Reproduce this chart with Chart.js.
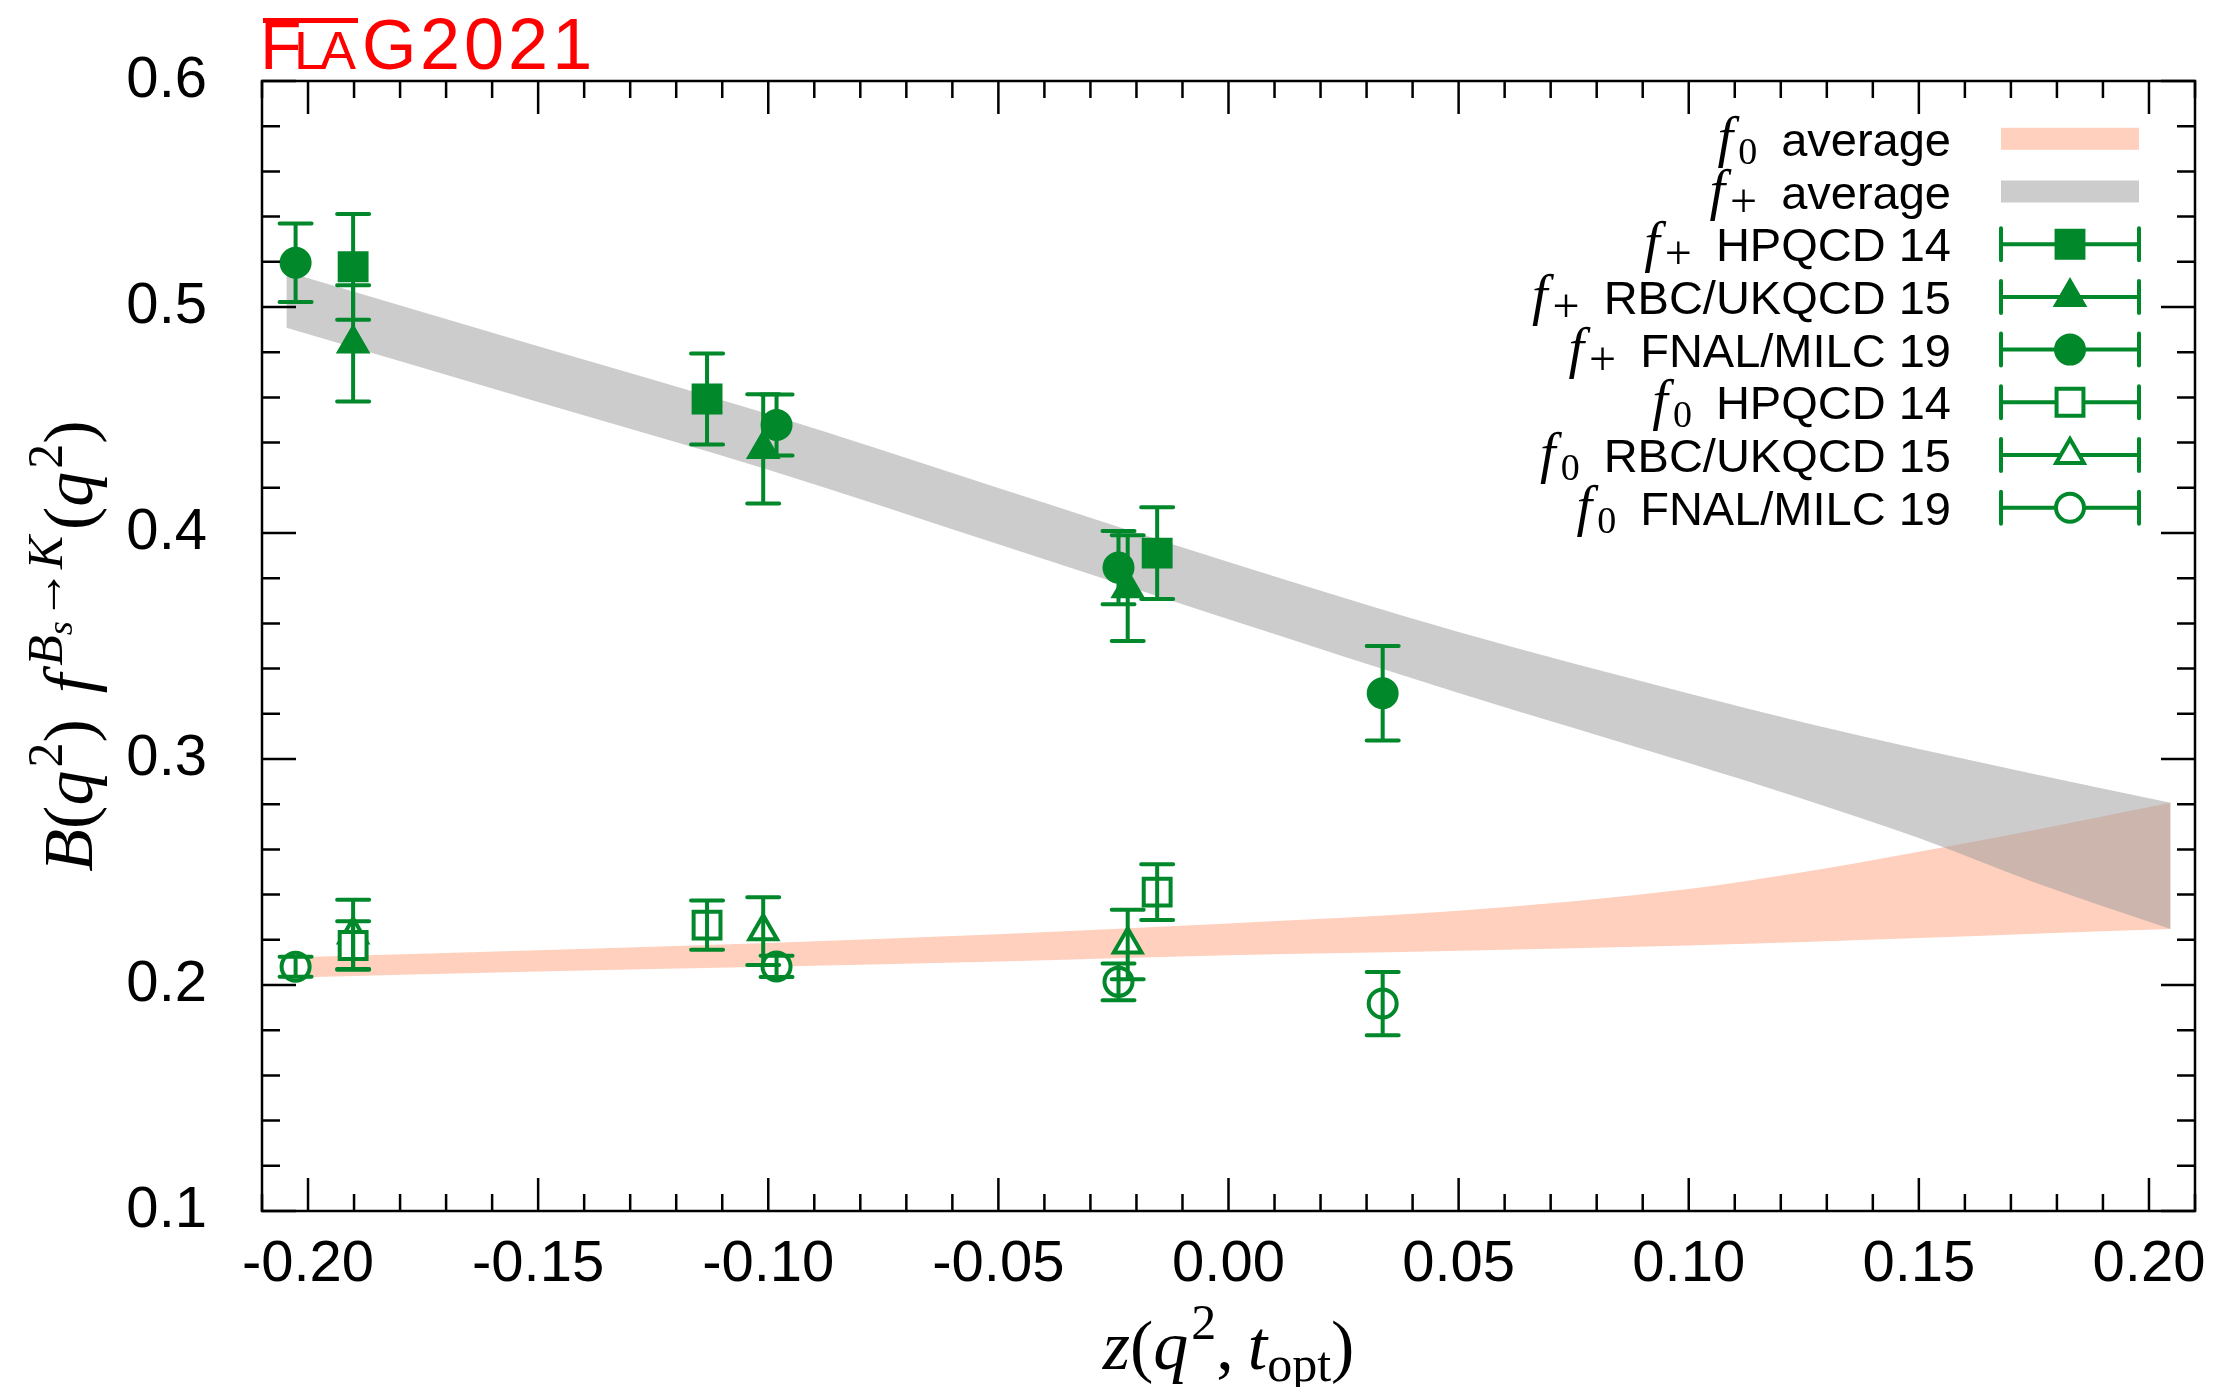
<!DOCTYPE html>
<html>
<head>
<meta charset="utf-8">
<title>FLAG 2021 - Bs -> K</title>
<script src="https://cdn.jsdelivr.net/npm/chart.js@4.4.1/dist/chart.umd.min.js"></script>
<style>
    html, body { margin: 0; padding: 0; background: #fff; }
    #contenedor { width: 2218px; height: 1387px; }
</style>
</head>
<body>
<div id="contenedor"><canvas id="grafico" width="2218" height="1387"></canvas></div>
<script>
const xTicks = [-0.20, -0.15, -0.10, -0.05, 0.00, 0.05, 0.10, 0.15, 0.20];
const yTicks = [0.1, 0.2, 0.3, 0.4, 0.5, 0.6];

// bandas (promedios FLAG): borde inferior y superior
const bandaZ = [-0.2047, -0.15, -0.10, -0.05, 0.00, 0.05, 0.10, 0.125, 0.15, 0.175, 0.2047];
const f0Bajo = [0.2032, 0.2060, 0.2081, 0.2104, 0.2132, 0.2152, 0.2175, 0.2190, 0.2208, 0.2227, 0.2248];
const f0Alto = [0.2122, 0.2154, 0.2186, 0.2225, 0.2272, 0.2328, 0.2425, 0.2500, 0.2590, 0.2685, 0.2806];
const fpBajo = [0.4908, 0.4580, 0.4280, 0.3950, 0.3618, 0.3292, 0.2982, 0.2822, 0.2650, 0.2455, 0.2248];
const fpAlto = [0.5156, 0.4826, 0.4526, 0.4199, 0.3872, 0.3562, 0.3290, 0.3162, 0.3044, 0.2934, 0.2806];

// HPQCD 14
const hpqcdZ = [-0.1902, -0.1133, -0.0155];
const hpqcdFp = [0.5178, 0.4593, 0.3911];
const hpqcdFpErr = [0.0234, 0.0201, 0.0203];
const hpqcdF0 = [0.2175, 0.2265, 0.2411];
const hpqcdF0Err = [0.0107, 0.0109, 0.0123];

// RBC/UKQCD 15
const rbcZ = [-0.1902, -0.1011, -0.0219];
const rbcFp = [0.4839, 0.4372, 0.3756];
const rbcFpErr = [0.0257, 0.0242, 0.0234];
const rbcF0 = [0.2224, 0.2238, 0.2179];
const rbcF0Err = [0.0153, 0.0150, 0.0154];

// FNAL/MILC 19
const fnalZ = [-0.2027, -0.0982, -0.0239, 0.0335];
const fnalFp = [0.5196, 0.4478, 0.3847, 0.3291];
const fnalFpErr = [0.0174, 0.0135, 0.0162, 0.0209];
const fnalF0 = [0.2081, 0.2082, 0.2014, 0.1918];
const fnalF0Err = [0.0044, 0.0047, 0.0081, 0.0140];

const verde = '#00882a';
const rosa = '#ffd0be';
const gris = 'rgba(153,153,153,0.5)';
const sans = '"Liberation Sans", Arial, sans-serif';
const serif = '"Liberation Serif", "DejaVu Serif", serif';

const puntos = (xs, ys) => xs.map((x, i) => ({ x, y: ys[i] }));

function banda(zs, vals, relleno, color, orden) {
    return {
        type: 'line',
        data: puntos(zs, vals),
        borderColor: 'rgba(0,0,0,0)',
        borderWidth: 0,
        pointRadius: 0,
        cubicInterpolationMode: 'monotone',
        fill: relleno,
        backgroundColor: color,
        order: orden
    };
}

function serie(zs, vals, errs, estilo, radio, lleno, leyenda) {
    return {
        type: 'scatter',
        data: puntos(zs, vals),
        err: errs,
        pointStyle: estilo,
        pointRadius: radio,
        pointBorderWidth: 4,
        pointBorderColor: verde,
        pointBackgroundColor: lleno ? verde : '#ffffff',
        borderColor: verde,
        backgroundColor: lleno ? verde : '#ffffff',
        order: 1,
        leyenda
    };
}

const datasets = [
    banda(bandaZ, f0Bajo, false, rosa, 20),
    Object.assign(banda(bandaZ, f0Alto, '-1', rosa, 20), { leyenda: { fila: 0, sub: '0', texto: 'average' } }),
    banda(bandaZ, fpBajo, false, gris, 19),
    Object.assign(banda(bandaZ, fpAlto, '-1', gris, 19), { leyenda: { fila: 1, sub: '+', texto: 'average' } }),
    serie(hpqcdZ, hpqcdFp, hpqcdFpErr, 'rect', 19, true, { fila: 2, sub: '+', texto: 'HPQCD 14' }),
    serie(rbcZ, rbcFp, rbcFpErr, 'triangle', 16, true, { fila: 3, sub: '+', texto: 'RBC/UKQCD 15' }),
    serie(fnalZ, fnalFp, fnalFpErr, 'circle', 14, true, { fila: 4, sub: '+', texto: 'FNAL/MILC 19' }),
    serie(hpqcdZ, hpqcdF0, hpqcdF0Err, 'rect', 19, false, { fila: 5, sub: '0', texto: 'HPQCD 14' }),
    serie(rbcZ, rbcF0, rbcF0Err, 'triangle', 16, false, { fila: 6, sub: '0', texto: 'RBC/UKQCD 15' }),
    serie(fnalZ, fnalF0, fnalF0Err, 'circle', 14, false, { fila: 7, sub: '0', texto: 'FNAL/MILC 19' })
];

function dibujarMarcador(ctx, estilo, radio, x, y) {
    if (Chart.helpers && Chart.helpers.drawPoint) {
        Chart.helpers.drawPoint(ctx, { pointStyle: estilo, radius: radio, rotation: 0, borderWidth: 4 }, x, y);
        return;
    }
    ctx.beginPath();
    ctx.arc(x, y, radio, 0, 2 * Math.PI);
    ctx.fill();
    ctx.stroke();
}

const barrasError = {
    id: 'barrasError',
    afterDatasetsDraw(chart) {
        const { ctx, scales: { x, y } } = chart;
        ctx.save();
        ctx.strokeStyle = verde;
        ctx.lineWidth = 4;
        ctx.lineCap = 'round';
        chart.data.datasets.forEach(ds => {
            if (!ds.err) return;
            ds.data.forEach((p, j) => {
                const px = x.getPixelForValue(p.x);
                const y1 = y.getPixelForValue(p.y + ds.err[j]);
                const y2 = y.getPixelForValue(p.y - ds.err[j]);
                ctx.beginPath();
                ctx.moveTo(px, y1); ctx.lineTo(px, y2);
                ctx.moveTo(px - 16, y1); ctx.lineTo(px + 16, y1);
                ctx.moveTo(px - 16, y2); ctx.lineTo(px + 16, y2);
                ctx.stroke();
            });
        });
        ctx.restore();
    }
};

const marco = {
    id: 'marco',
    afterDraw(chart) {
        const { ctx, chartArea: a, scales: { x, y } } = chart;
        ctx.save();
        ctx.strokeStyle = '#000';
        ctx.lineWidth = 2.5;
        ctx.beginPath();
        for (let k = -21; k <= 21; k++) {
            const px = x.getPixelForValue(k / 100);
            const largo = k % 5 === 0 ? 33 : 17;
            ctx.moveTo(px, a.bottom); ctx.lineTo(px, a.bottom - largo);
            ctx.moveTo(px, a.top); ctx.lineTo(px, a.top + largo);
        }
        for (let k = 5; k <= 30; k++) {
            const py = y.getPixelForValue(k * 0.02);
            const largo = k % 5 === 0 ? 34 : 18;
            ctx.moveTo(a.left, py); ctx.lineTo(a.left + largo, py);
            ctx.moveTo(a.right, py); ctx.lineTo(a.right - largo, py);
        }
        ctx.stroke();
        ctx.strokeRect(a.left, a.top, a.right - a.left, a.bottom - a.top);
        ctx.restore();
    }
};

// secuencia de trozos de texto con fuentes y desplazamientos distintos
function anchoTrozos(ctx, trozos) {
    return trozos.reduce((w, t) => {
        if (t.hueco) return w + t.hueco;
        ctx.font = t.f;
        return w + ctx.measureText(t.t).width + (t.extra || 0);
    }, 0);
}

function dibujarTrozos(ctx, trozos, x, base) {
    trozos.forEach(t => {
        if (t.hueco) { x += t.hueco; return; }
        ctx.font = t.f;
        ctx.fillText(t.t, x, base + (t.dy || 0));
        x += ctx.measureText(t.t).width + (t.extra || 0);
    });
}

const textos = {
    id: 'textos',
    afterDraw(chart) {
        const { ctx, chartArea: a } = chart;
        ctx.save();
        ctx.fillStyle = '#000';
        ctx.textAlign = 'left';
        ctx.textBaseline = 'alphabetic';

        const it = `italic 70px ${serif}`, rm = `70px ${serif}`;
        const itS = `italic 50px ${serif}`, rmS = `50px ${serif}`;

        const tituloX = [
            { t: 'z', f: it }, { t: '(', f: rm }, { t: 'q', f: it, extra: 3 },
            { t: '2', f: rmS, dy: -30 }, { t: ',', f: rm }, { hueco: 14 },
            { t: 't', f: it }, { t: 'opt', f: rmS, dy: 12 }, { t: ')', f: rm }
        ];
        const wx = anchoTrozos(ctx, tituloX);
        dibujarTrozos(ctx, tituloX, (a.left + a.right) / 2 - wx / 2, 1369);

        const tituloY = [
            { t: 'B', f: it }, { t: '(', f: rm }, { t: 'q', f: it, extra: 3 },
            { t: '2', f: rmS, dy: -30 }, { t: ')', f: rm }, { hueco: 26 },
            { t: 'f', f: it, extra: 8 }, { t: 'B', f: itS, dy: -30 },
            { t: 's', f: `italic 36px ${serif}`, dy: -20, extra: 2 },
            { t: '\u2192', f: rmS, dy: -30 }, { t: 'K', f: itS, dy: -30, extra: 6 },
            { t: '(', f: rm }, { t: 'q', f: it, extra: 3 },
            { t: '2', f: rmS, dy: -30 }, { t: ')', f: rm }
        ];
        const wy = anchoTrozos(ctx, tituloY);
        ctx.save();
        ctx.translate(92, (a.top + a.bottom) / 2);
        ctx.rotate(-Math.PI / 2);
        dibujarTrozos(ctx, tituloY, -wy / 2, 0);
        ctx.restore();

        // logo FLAG2021
        ctx.fillStyle = '#ff0000';
        ctx.font = `68px ${sans}`;
        ctx.fillText('F', 260, 68.5);
        ctx.font = `54px ${sans}`;
        ctx.fillText('L', 294, 68.5);
        ctx.fillText('A', 320, 68.5);
        ctx.font = `70px ${sans}`;
        ctx.fillText('G', 362, 68.5);
        ctx.font = `72px ${sans}`;
        ctx.letterSpacing = '4px';
        ctx.fillText('2021', 420, 68.5);
        ctx.letterSpacing = '0px';
        ctx.strokeStyle = '#ff0000';
        ctx.lineWidth = 5;
        ctx.beginPath();
        ctx.moveTo(263, 20.5); ctx.lineTo(358, 20.5);
        ctx.stroke();
        ctx.restore();
    }
};

const leyenda = {
    id: 'leyenda',
    afterDraw(chart) {
        const { ctx } = chart;
        const x0 = 2001, x1 = 2139, xm = 2070, xTexto = 1951;
        ctx.save();
        chart.data.datasets.forEach(ds => {
            const l = ds.leyenda;
            if (!l) return;
            const yc = 138.8 + 52.7 * l.fila;
            if (!ds.err) {
                ctx.fillStyle = ds.backgroundColor;
                ctx.fillRect(x0, yc - 11, x1 - x0, 22);
            } else {
                ctx.strokeStyle = verde;
                ctx.lineWidth = 4;
                ctx.lineCap = 'round';
                ctx.beginPath();
                ctx.moveTo(x0, yc); ctx.lineTo(x1, yc);
                ctx.moveTo(x0, yc - 16); ctx.lineTo(x0, yc + 16);
                ctx.moveTo(x1, yc - 16); ctx.lineTo(x1, yc + 16);
                ctx.stroke();
                ctx.lineCap = 'butt';
                ctx.fillStyle = ds.pointBackgroundColor;
                dibujarMarcador(ctx, ds.pointStyle, ds.pointRadius, xm, yc);
            }
            const base = yc + 17;
            ctx.fillStyle = '#000';
            ctx.textAlign = 'left';
            ctx.font = `47px ${sans}`;
            const wT = ctx.measureText(l.texto).width;
            const xT = xTexto - wT;
            ctx.fillText(l.texto, xT, base);
            ctx.font = l.sub === '+' ? `48px ${serif}` : `38px ${serif}`;
            const wS = ctx.measureText(l.sub).width;
            const xS = xT - 24 - wS;
            ctx.fillText(l.sub, xS, base + 8);
            ctx.font = `italic 56px ${serif}`;
            const wF = ctx.measureText('f').width;
            ctx.fillText('f', xS - wF - 5, base);
        });
        ctx.restore();
    }
};

const sinRelleno = s => { s.paddingLeft = 0; s.paddingRight = 0; s.paddingTop = 0; s.paddingBottom = 0; };

new Chart(document.getElementById('grafico'), {
    type: 'scatter',
    data: { datasets },
    options: {
        responsive: false,
        animation: false,
        devicePixelRatio: 1,
        layout: { padding: { top: 81, right: 22, left: 0, bottom: 0 } },
        plugins: { legend: { display: false }, tooltip: { enabled: false } },
        scales: {
            x: {
                type: 'linear',
                min: -0.21,
                max: 0.21,
                afterBuildTicks: s => { s.ticks = xTicks.map(v => ({ value: v })); },
                afterFit: s => { s.height = 176; sinRelleno(s); },
                grid: { display: false, drawTicks: false },
                border: { display: false },
                ticks: {
                    autoSkip: false,
                    maxRotation: 0,
                    padding: 19,
                    color: '#000',
                    font: { family: sans, size: 58 },
                    callback: v => Number(v).toFixed(2)
                }
            },
            y: {
                type: 'linear',
                min: 0.1,
                max: 0.6,
                afterBuildTicks: s => { s.ticks = yTicks.map(v => ({ value: v })); },
                afterFit: s => { s.width = 262; sinRelleno(s); },
                grid: { display: false, drawTicks: false },
                border: { display: false },
                ticks: {
                    autoSkip: false,
                    padding: 55,
                    color: '#000',
                    font: { family: sans, size: 58 },
                    callback: v => Number(v).toFixed(1)
                }
            }
        }
    },
    plugins: [barrasError, marco, textos, leyenda]
});
</script>
</body>
</html>
